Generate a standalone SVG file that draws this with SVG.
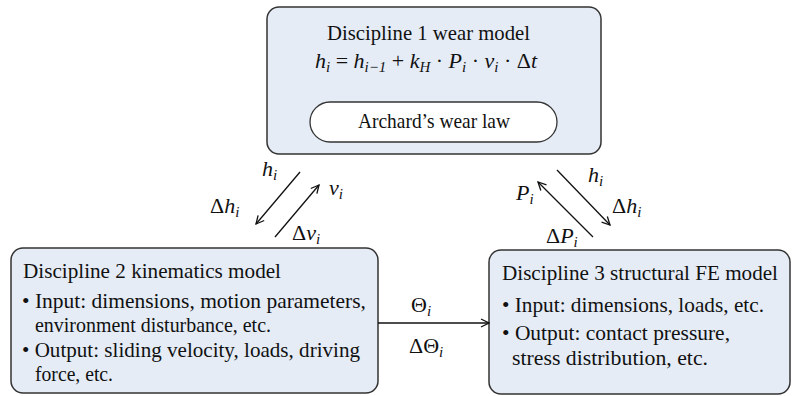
<svg xmlns="http://www.w3.org/2000/svg" width="801" height="396" viewBox="0 0 801 396">
<style>
.box{fill:#e5ecf6;stroke:#333;stroke-width:1.5}
.t{font-family:"Liberation Serif","Times New Roman",serif;font-size:21px;fill:#111}
.m{font-family:"Liberation Serif","Times New Roman",serif;font-size:22px;font-style:italic;fill:#111}
.s{font-size:15px}
.ln{stroke:#111;stroke-width:1.3;fill:none}
</style>
<defs>
<marker id="ah" viewBox="0 0 10 10" refX="9" refY="5" markerWidth="10" markerHeight="10" markerUnits="userSpaceOnUse" orient="auto">
<path d="M1,1 L9,5 L1,9" fill="none" stroke="#111" stroke-width="1.3"/>
</marker>
</defs>
<g id="node1">
<rect class="box" x="267" y="7" width="334" height="147" rx="12"/>
<text class="t" x="327" y="40" textLength="203" lengthAdjust="spacingAndGlyphs">Discipline 1 wear model</text>
<text class="m" x="315" y="68" textLength="222" lengthAdjust="spacing">h<tspan class="s" dy="4">i</tspan><tspan dy="-4" font-style="normal"> = </tspan>h<tspan class="s" dy="4">i−1</tspan><tspan dy="-4" font-style="normal"> + </tspan>k<tspan class="s" dy="4">H</tspan><tspan dy="-4" font-style="normal"> · </tspan>P<tspan class="s" dy="4">i</tspan><tspan dy="-4" font-style="normal"> · </tspan>ν<tspan class="s" dy="4">i</tspan><tspan dy="-4" font-style="normal"> · Δ</tspan>t</text>
<rect x="310" y="102" width="247" height="40" rx="20" fill="#fff" stroke="#333" stroke-width="1.3"/>
<text class="t" x="358" y="128" textLength="152" lengthAdjust="spacingAndGlyphs">Archard’s wear law</text>
</g>
<g id="node2">
<rect class="box" x="11" y="248" width="367" height="145" rx="12"/>
<text class="t" x="23" y="278" textLength="258" lengthAdjust="spacingAndGlyphs">Discipline 2 kinematics model</text>
<text class="t" x="22" y="308" textLength="344" lengthAdjust="spacingAndGlyphs">• Input: dimensions, motion parameters,</text>
<text class="t" x="35" y="332" textLength="236" lengthAdjust="spacingAndGlyphs">environment disturbance, etc.</text>
<text class="t" x="22" y="357" textLength="338" lengthAdjust="spacingAndGlyphs">• Output: sliding velocity, loads, driving</text>
<text class="t" x="35" y="381" textLength="78" lengthAdjust="spacingAndGlyphs">force, etc.</text>
</g>
<g id="node3">
<rect class="box" x="489" y="250" width="301" height="144" rx="12"/>
<text class="t" x="502" y="280" textLength="276" lengthAdjust="spacingAndGlyphs">Discipline 3 structural FE model</text>
<text class="t" x="502" y="312" textLength="262" lengthAdjust="spacingAndGlyphs">• Input: dimensions, loads, etc.</text>
<text class="t" x="502" y="340" textLength="228" lengthAdjust="spacingAndGlyphs">• Output: contact pressure,</text>
<text class="t" x="512" y="365" textLength="196" lengthAdjust="spacingAndGlyphs">stress distribution, etc.</text>
</g>
<g id="connectors">
<line class="ln" x1="300" y1="172" x2="256" y2="224" marker-end="url(#ah)"/>
<line class="ln" x1="275" y1="237" x2="319" y2="185" marker-end="url(#ah)"/>
<line class="ln" x1="557" y1="170" x2="610" y2="225" marker-end="url(#ah)"/>
<line class="ln" x1="593" y1="237" x2="538" y2="182" marker-end="url(#ah)"/>
<line class="ln" x1="378" y1="323" x2="489" y2="323" marker-end="url(#ah)"/>
</g>
<g id="labels">
<text class="m" x="262" y="176">h<tspan class="s" dy="4">i</tspan></text>
<text class="m" x="210" y="213"><tspan font-style="normal">Δ</tspan>h<tspan class="s" dy="4">i</tspan></text>
<text class="m" x="329" y="195">ν<tspan class="s" dy="4">i</tspan></text>
<text class="m" x="292" y="240"><tspan font-style="normal">Δ</tspan>ν<tspan class="s" dy="4">i</tspan></text>
<text class="m" x="588" y="182">h<tspan class="s" dy="4">i</tspan></text>
<text class="m" x="612" y="213"><tspan font-style="normal">Δ</tspan>h<tspan class="s" dy="4">i</tspan></text>
<text class="m" x="516" y="200">P<tspan class="s" dy="4">i</tspan></text>
<text class="m" x="546" y="243"><tspan font-style="normal">Δ</tspan>P<tspan class="s" dy="4">i</tspan></text>
<text class="m" x="411" y="312"><tspan font-style="normal">Θ</tspan><tspan class="s" dy="4">i</tspan></text>
<text class="m" x="409" y="353"><tspan font-style="normal">ΔΘ</tspan><tspan class="s" dy="4">i</tspan></text>
</g>
</svg>
